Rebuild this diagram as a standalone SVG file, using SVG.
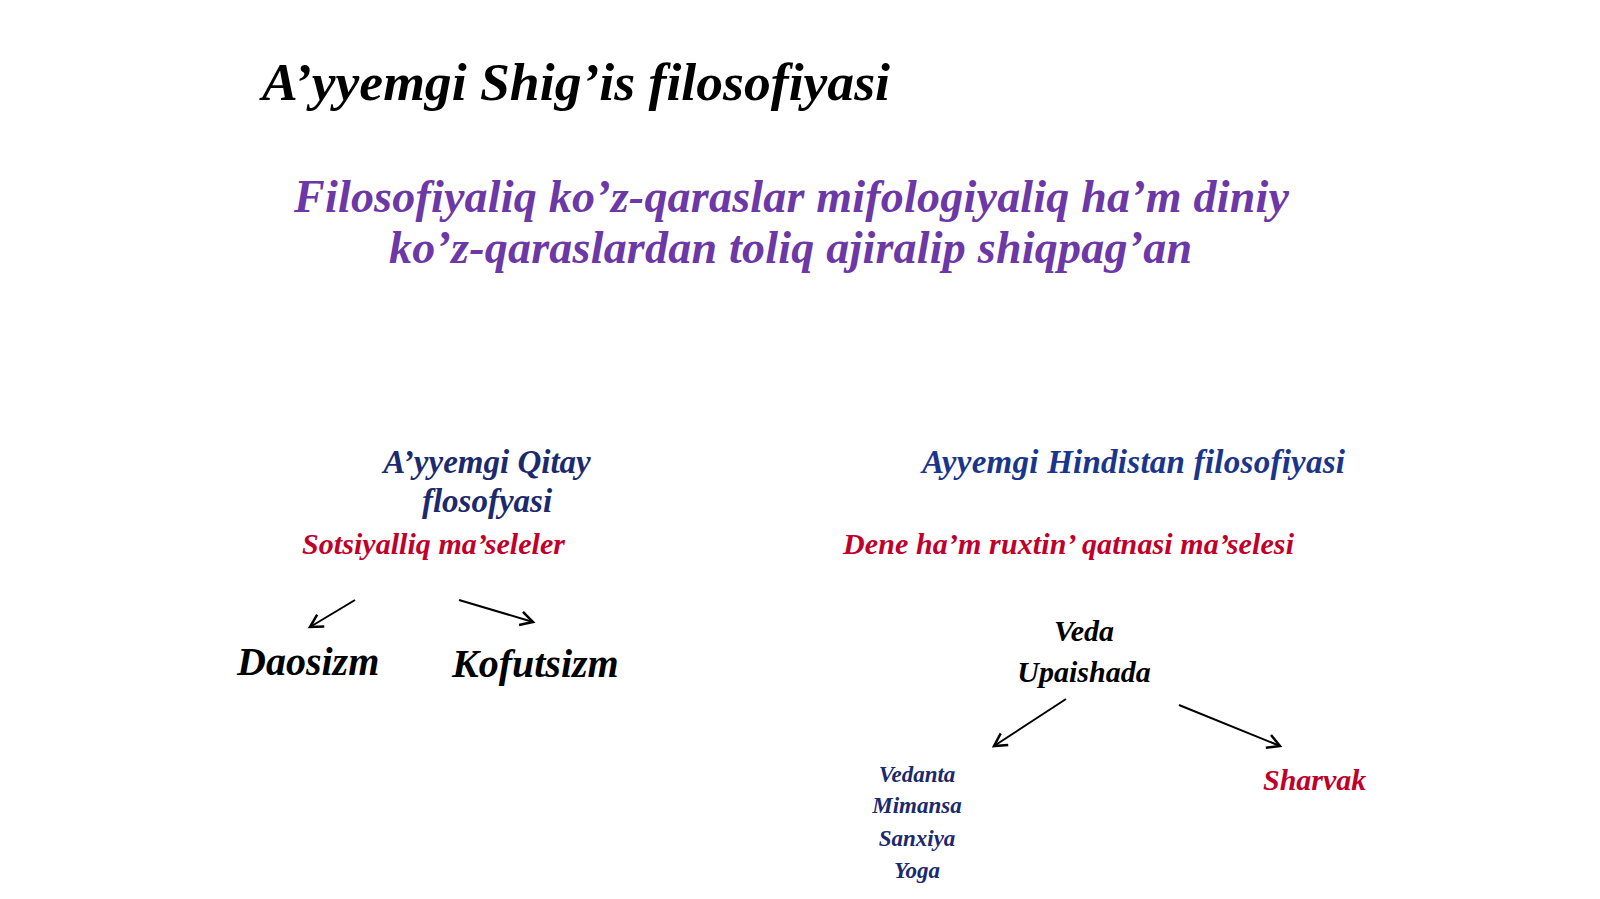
<svg xmlns="http://www.w3.org/2000/svg" width="1600" height="899" viewBox="0 0 1600 899">
<defs>
<marker id="open" markerUnits="userSpaceOnUse" markerWidth="20" markerHeight="20" viewBox="-12 -8 14 16" refX="0" refY="0" orient="auto">
<path d="M-10,-5.5 L0,0 L-10,5.5" fill="none" stroke="#000" stroke-width="2"/>
</marker>
</defs>
<style>
text{font-family:"Liberation Serif","Times New Roman",serif;font-weight:bold;font-style:italic}
.title{font-size:53px;fill:#000}
.sub{font-size:46px;fill:#6C37A6}
.head{font-size:33px;fill:#1B2A6E}
.headb{font-size:33px;fill:#1A358C}
.red{font-size:30px;fill:#C0002A}
.big{font-size:40px;fill:#000}
.mid{font-size:30px;fill:#000}
.small{font-size:23px;fill:#1B2A6E}
.conn line{stroke:#000;stroke-width:2;marker-end:url(#open)}
</style>
<rect width="1600" height="899" fill="#fff"/>
<g id="title"><text class="title" x="262" y="100" textLength="628" lengthAdjust="spacingAndGlyphs">A’yyemgi Shig’is filosofiyasi</text></g>
<g id="subtitle">
<text class="sub" x="294" y="212" textLength="995" lengthAdjust="spacing">Filosofiyaliq ko’z-qaraslar mifologiyaliq ha’m diniy</text>
<text class="sub" x="389" y="263" textLength="803" lengthAdjust="spacing">ko’z-qaraslardan toliq ajiralip shiqpag’an</text>
</g>
<g id="qitay">
<text class="head" x="487" y="473" text-anchor="middle">A’yyemgi Qitay</text>
<text class="head" x="487" y="512" text-anchor="middle">flosofyasi</text>
</g>
<g id="sotsiyal"><text class="red" x="302" y="554" textLength="263">Sotsiyalliq ma’seleler</text></g>
<g id="daosizm"><text class="big" x="237" y="675">Daosizm</text></g>
<g id="kofutsizm"><text class="big" x="452" y="677">Kofutsizm</text></g>
<g id="hindistan"><text class="headb" x="922" y="473" textLength="423">Ayyemgi Hindistan filosofiyasi</text></g>
<g id="dene"><text class="red" x="843" y="554" textLength="451">Dene ha’m ruxtin’ qatnasi ma’selesi</text></g>
<g id="veda">
<text class="mid" x="1084" y="641" text-anchor="middle">Veda</text>
<text class="mid" x="1084" y="682" text-anchor="middle">Upaishada</text>
</g>
<g id="schools">
<text class="small" x="917" y="782" text-anchor="middle">Vedanta</text>
<text class="small" x="917" y="813" text-anchor="middle">Mimansa</text>
<text class="small" x="917" y="846" text-anchor="middle">Sanxiya</text>
<text class="small" x="917" y="878" text-anchor="middle">Yoga</text>
</g>
<g id="sharvak"><text class="red" x="1263" y="790">Sharvak</text></g>
<g class="conn" id="connectors">
<line x1="355" y1="600" x2="310" y2="627"/>
<line x1="459" y1="600" x2="533" y2="622"/>
<line x1="1066" y1="699" x2="994" y2="746"/>
<line x1="1179" y1="705" x2="1280" y2="746"/>
</g>
</svg>
